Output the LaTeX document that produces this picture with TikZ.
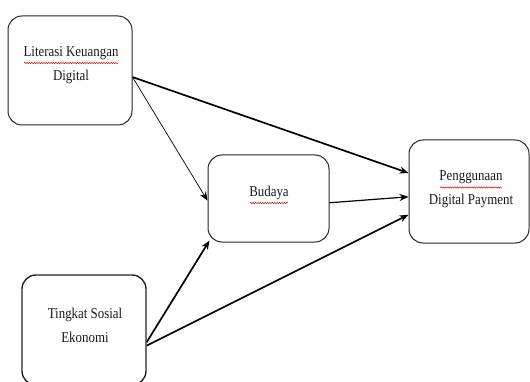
\documentclass[tikz,border=0pt]{standalone}
\usepackage{fontspec}
\setmainfont{Liberation Serif}
\newfontfamily\lblfont{Liberation Serif}[FakeStretch=0.86]
\usetikzlibrary{arrows.meta,calc,decorations.pathmorphing}
\begin{document}
\begin{tikzpicture}[x=1pt,y=-1pt,
  box/.style={draw=black!85,line width=1pt,rounded corners=14pt,inner sep=0pt},
  lbl/.style={align=center,font=\lblfont\fontsize{15}{24}\selectfont,text=black!90,inner sep=0pt},
  arr/.style={-{Stealth[length=9pt,width=7pt]}},
  spell/.style={red!80!black,line width=0.45pt,decorate,decoration={snake,amplitude=0.7pt,segment length=2.4pt}}]
\useasboundingbox[fill=white] (0,0) rectangle (530,382);
% boxes
\node[box,minimum width=124pt,minimum height=109pt] (lit) at (70,70.5) {};
\node[box,minimum width=121pt,minimum height=87pt] (bud) at (268.5,198.5) {};
\node[box,minimum width=120pt,minimum height=103pt] (pen) at (469,191.5) {};
\node[box,line width=1.4pt,minimum width=124pt,minimum height=110pt] (tin) at (84,330) {};
% labels
\node[lbl] (litt) at (71,65) {Literasi Keuangan\\Digital};
\node[lbl] (budt) at (269,193) {Budaya};
\node[lbl] (pent) at (471,189.5) {Penggunaan\\Digital Payment};
\node[lbl] (tint) at (85,325) {Tingkat Sosial\\Ekonomi};
% spell-check underlines
\draw[spell] (24,63) -- (118,63);
\draw[spell] (250,203) -- (288,203);
\draw[spell] (440,187.5) -- (502,187.5);
% connectors
\draw[arr,line width=1.7pt] (lit.-6) -- (pen.163);
\draw[arr,line width=0.7pt] (lit.-6) -- (bud.182);
\draw[arr,line width=1.2pt] (bud.-4) -- (pen.185);
\draw[arr,line width=1.7pt] (tin.-11) -- ($(bud.south west)+(2,-2)$);
\draw[arr,line width=1.7pt] (tin.-14) -- (pen.201);
\end{tikzpicture}
\end{document}
